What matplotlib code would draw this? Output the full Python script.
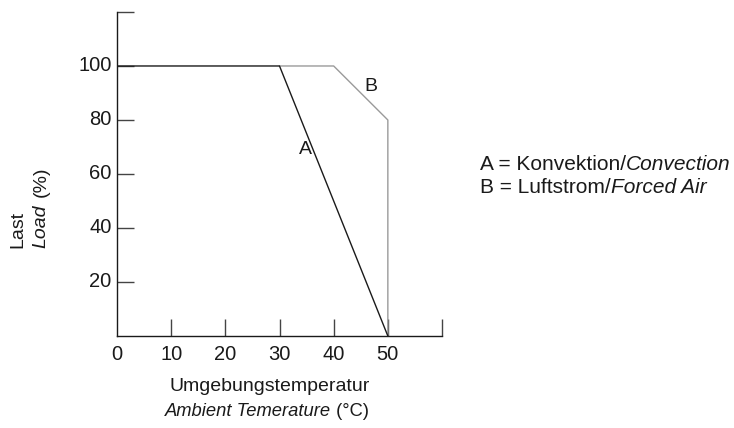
import matplotlib
matplotlib.use("Agg")
import matplotlib.pyplot as plt

plt.rcParams['font.family'] = ['Liberation Sans', 'DejaVu Sans']

# Kurve A: Konvektion
temp_a = [0, 30, 50]
load_a = [100, 100, 0]
# Kurve B: Luftstrom
temp_b = [30, 40, 50, 50]
load_b = [100, 100, 80, 0]

x_ticks = [10, 20, 30, 40, 50, 60]
x_labels = ["0", "10", "20", "30", "40", "50"]
y_ticks = [20, 40, 60, 80, 100, 120]
y_labels = ["20", "40", "60", "80", "100"]

INK = "#1a1a1a"

fig = plt.figure(figsize=(7.34, 4.28), dpi=100)
ax = fig.add_axes([0.1594, 0.215, 0.4428, 0.757])

ax.plot(temp_b, load_b, color="#9a9a9a", lw=1.0, zorder=2)
ax.plot(temp_a, load_a, color=INK, lw=1.0, zorder=3)

ax.set_xlim(0, 60)
ax.set_ylim(0, 120)
ax.spines['top'].set_visible(False)
ax.spines['right'].set_visible(False)
for s in ('left', 'bottom'):
    ax.spines[s].set_linewidth(1.0)
    ax.spines[s].set_color(INK)

ax.set_xticks(x_ticks)
ax.set_xticklabels([])
ax.set_yticks(y_ticks)
ax.set_yticklabels([])
ax.tick_params(direction='in', length=12, width=1.0, color="#444444")

# tick labels as text so 0 appears without a tick
for i, lab in enumerate(x_labels):
    ax.text(i * 10, -3.5, lab, ha='center', va='top', fontsize=14.5, color=INK)
for i, lab in enumerate(y_labels):
    ax.text(-1.0, (i + 1) * 20, lab, ha='right', va='center', fontsize=14.5, color=INK)

ax.text(34.7, 69, "A", ha='center', va='center', fontsize=14, color=INK)
ax.text(46.8, 92.5, "B", ha='center', va='center', fontsize=14, color=INK)

# y-axis title
fig.text(0.0245, 0.42, "Last", rotation=90, ha='center', va='bottom', fontsize=14, color=INK)
t = fig.text(0.056, 0.42, "Load", rotation=90, ha='center', va='bottom', fontsize=14,
             style='italic', color=INK)
fig.text(0.056, 0.539, "(%)", rotation=90, ha='center', va='bottom', fontsize=14, color=INK)

# x-axis title
fig.text(0.368, 0.087, "Umgebungstemperatur", ha='center', va='baseline', fontsize=14, color=INK)
t = fig.text(0.225, 0.029, "Ambient Temerature", ha='left', va='baseline', fontsize=13.2,
             style='italic', color=INK)
ax.annotate(" (\u00b0C)", xy=(1, 0), xycoords=t, ha='left', va='bottom',
            fontsize=13.2, color=INK)

# legend text
t = fig.text(0.654, 0.603, "A = Konvektion/", ha='left', va='baseline', fontsize=15, color=INK)
ax.annotate("Convection", xy=(1, 0), xycoords=t, ha='left', va='bottom',
            fontsize=15, style='italic', color=INK)
t = fig.text(0.654, 0.549, "B = Luftstrom/", ha='left', va='baseline', fontsize=15, color=INK)
ax.annotate("Forced Air", xy=(1, 0), xycoords=t, ha='left', va='bottom',
            fontsize=15, style='italic', color=INK)

fig.savefig("out.png", dpi=100)
